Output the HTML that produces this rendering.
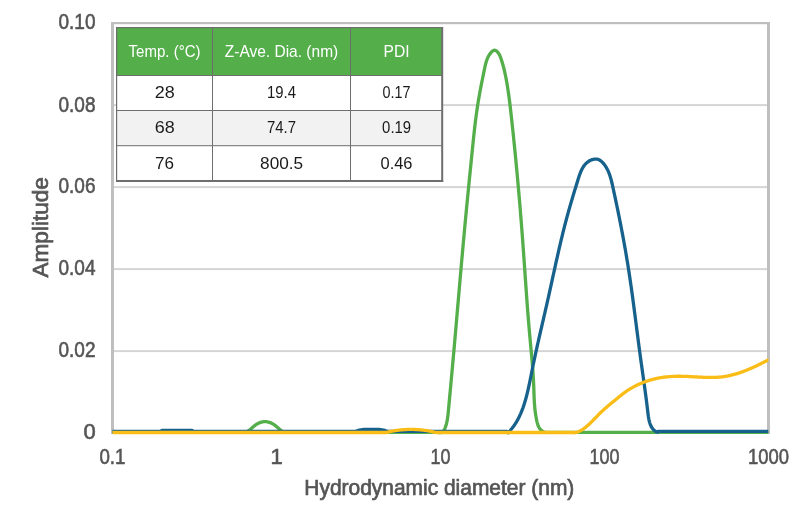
<!DOCTYPE html>
<html><head><meta charset="utf-8">
<style>
html,body{margin:0;padding:0;background:#fff;width:810px;height:525px;overflow:hidden}
svg{display:block;font-family:"Liberation Sans",sans-serif;will-change:transform}
</style></head><body>
<svg width="810" height="525" viewBox="0 0 810 525">
<rect width="810" height="525" fill="#fff"/>
<g fill="#d5d5d5">
<rect x="114" y="104.1" width="653" height="2"/>
<rect x="114" y="186.1" width="653" height="2"/>
<rect x="114" y="268.1" width="653" height="2"/>
<rect x="114" y="350.1" width="653" height="2"/>
</g>
<g fill="#bfbfbf">
<rect x="111" y="22" width="659" height="2.2"/>
<rect x="111" y="22" width="3" height="412"/>
<rect x="767" y="22" width="3" height="412"/>
</g>
<defs><clipPath id="pc"><rect x="111" y="0" width="657.5" height="525"/></clipPath></defs>
<g fill="none" stroke-width="3.3" stroke-linejoin="round" stroke-linecap="butt" clip-path="url(#pc)">
<path stroke="#54ae4a" d="M112.50,432.40 L243.00,432.40 L243.06,432.46 L244.08,432.39 L245.05,432.22 L245.97,431.95 L246.85,431.59 L247.70,431.16 L248.51,430.66 L249.30,430.11 L250.08,429.52 L250.83,428.89 L251.59,428.24 L252.34,427.58 L253.10,426.91 L253.87,426.26 L254.65,425.63 L255.46,425.02 L256.29,424.46 L257.15,423.93 L258.03,423.45 L258.92,423.02 L259.83,422.64 L260.75,422.31 L261.68,422.04 L262.62,421.84 L263.57,421.69 L264.52,421.62 L265.47,421.62 L266.42,421.69 L267.37,421.84 L268.31,422.04 L269.24,422.31 L270.17,422.64 L271.08,423.02 L271.98,423.45 L272.85,423.93 L273.71,424.45 L274.55,425.02 L275.36,425.62 L276.15,426.25 L276.92,426.90 L277.68,427.56 L278.43,428.23 L279.18,428.88 L279.93,429.52 L280.69,430.12 L281.47,430.68 L282.28,431.18 L283.12,431.62 L284.00,431.98 L284.92,432.24 L285.91,432.40 L286.95,432.45 L287.00,432.40 L438.00,432.40 L437.99,432.40 L439.35,432.62 L440.52,432.60 L441.52,432.36 L442.36,431.93 L443.08,431.35 L443.69,430.64 L444.20,429.83 L444.65,428.95 L445.04,428.04 L445.39,427.10 L445.72,426.16 L446.02,425.21 L446.30,424.26 L446.55,423.30 L446.78,422.33 L446.99,421.36 L447.18,420.39 L447.35,419.41 L447.51,418.42 L447.65,417.43 L447.79,416.44 L447.91,415.45 L448.02,414.46 L448.13,413.46 L448.23,412.46 L448.32,411.47 L448.42,410.47 L448.51,409.47 L448.60,408.47 L448.70,407.47 L448.79,406.47 L448.88,405.48 L448.97,404.48 L449.07,403.48 L449.16,402.48 L449.25,401.49 L449.35,400.49 L449.44,399.49 L449.53,398.50 L449.62,397.50 L449.72,396.51 L449.81,395.51 L449.90,394.51 L449.99,393.52 L450.09,392.52 L450.18,391.53 L450.27,390.53 L450.36,389.54 L450.46,388.54 L450.55,387.55 L450.64,386.55 L450.73,385.56 L450.82,384.56 L450.92,383.57 L451.01,382.58 L451.10,381.58 L451.19,380.59 L451.28,379.59 L451.37,378.60 L451.47,377.61 L451.56,376.61 L451.65,375.62 L451.74,374.62 L451.83,373.63 L451.92,372.64 L452.01,371.64 L452.10,370.65 L452.19,369.65 L452.28,368.66 L452.37,367.67 L452.46,366.67 L452.55,365.68 L452.64,364.68 L452.73,363.69 L452.82,362.70 L452.91,361.70 L453.00,360.71 L453.09,359.71 L453.18,358.72 L453.27,357.73 L453.36,356.73 L453.45,355.74 L453.53,354.74 L453.62,353.75 L453.71,352.75 L453.80,351.76 L453.89,350.77 L453.98,349.77 L454.06,348.78 L454.15,347.78 L454.24,346.79 L454.33,345.79 L454.41,344.80 L454.50,343.80 L454.59,342.81 L454.68,341.81 L454.76,340.82 L454.85,339.82 L454.94,338.83 L455.03,337.84 L455.11,336.84 L455.20,335.85 L455.29,334.85 L455.37,333.86 L455.46,332.86 L455.55,331.87 L455.63,330.87 L455.72,329.88 L455.81,328.88 L455.89,327.89 L455.98,326.89 L456.07,325.90 L456.15,324.90 L456.24,323.91 L456.32,322.91 L456.41,321.92 L456.50,320.92 L456.58,319.93 L456.67,318.93 L456.75,317.94 L456.84,316.94 L456.93,315.95 L457.01,314.95 L457.10,313.96 L457.18,312.96 L457.27,311.97 L457.36,310.97 L457.44,309.98 L457.53,308.98 L457.61,307.99 L457.70,306.99 L457.79,305.99 L457.87,305.00 L457.96,304.00 L458.04,303.01 L458.13,302.01 L458.21,301.02 L458.30,300.02 L458.39,299.03 L458.47,298.03 L458.56,297.04 L458.64,296.04 L458.73,295.05 L458.82,294.05 L458.90,293.06 L458.99,292.06 L459.07,291.07 L459.16,290.07 L459.25,289.08 L459.33,288.08 L459.42,287.09 L459.51,286.09 L459.59,285.09 L459.68,284.10 L459.76,283.10 L459.85,282.11 L459.94,281.11 L460.02,280.12 L460.11,279.12 L460.20,278.13 L460.28,277.13 L460.37,276.14 L460.46,275.14 L460.54,274.15 L460.63,273.15 L460.72,272.16 L460.81,271.16 L460.89,270.17 L460.98,269.17 L461.07,268.18 L461.15,267.18 L461.24,266.19 L461.33,265.19 L461.42,264.20 L461.51,263.20 L461.59,262.21 L461.68,261.21 L461.77,260.22 L461.86,259.22 L461.95,258.23 L462.03,257.23 L462.12,256.24 L462.21,255.24 L462.30,254.25 L462.39,253.25 L462.48,252.26 L462.57,251.26 L462.66,250.27 L462.75,249.27 L462.84,248.28 L462.93,247.28 L463.02,246.29 L463.11,245.29 L463.20,244.30 L463.29,243.30 L463.38,242.31 L463.47,241.31 L463.56,240.32 L463.65,239.32 L463.74,238.33 L463.83,237.33 L463.92,236.34 L464.01,235.34 L464.10,234.35 L464.19,233.36 L464.29,232.36 L464.38,231.37 L464.47,230.37 L464.56,229.38 L464.66,228.38 L464.75,227.39 L464.84,226.39 L464.93,225.40 L465.03,224.41 L465.12,223.41 L465.21,222.42 L465.31,221.42 L465.40,220.43 L465.50,219.43 L465.59,218.44 L465.68,217.45 L465.78,216.45 L465.87,215.46 L465.97,214.46 L466.06,213.47 L466.16,212.48 L466.25,211.48 L466.35,210.49 L466.44,209.49 L466.54,208.50 L466.63,207.51 L466.73,206.51 L466.83,205.52 L466.92,204.52 L467.02,203.53 L467.11,202.54 L467.21,201.54 L467.31,200.55 L467.40,199.55 L467.50,198.56 L467.60,197.57 L467.69,196.57 L467.79,195.58 L467.89,194.59 L467.99,193.59 L468.08,192.60 L468.18,191.60 L468.28,190.61 L468.38,189.62 L468.47,188.62 L468.57,187.63 L468.67,186.64 L468.77,185.64 L468.87,184.65 L468.96,183.65 L469.06,182.66 L469.16,181.67 L469.26,180.67 L469.36,179.68 L469.46,178.69 L469.55,177.69 L469.65,176.70 L469.75,175.70 L469.85,174.71 L469.95,173.72 L470.05,172.72 L470.15,171.73 L470.25,170.74 L470.35,169.74 L470.45,168.75 L470.55,167.75 L470.65,166.76 L470.74,165.77 L470.84,164.77 L470.94,163.78 L471.04,162.79 L471.14,161.79 L471.24,160.80 L471.34,159.80 L471.44,158.81 L471.54,157.82 L471.64,156.82 L471.74,155.83 L471.84,154.84 L471.94,153.84 L472.04,152.85 L472.14,151.85 L472.24,150.86 L472.34,149.87 L472.44,148.87 L472.54,147.88 L472.65,146.88 L472.75,145.89 L472.85,144.90 L472.95,143.90 L473.05,142.91 L473.15,141.91 L473.25,140.92 L473.36,139.93 L473.46,138.93 L473.56,137.94 L473.67,136.95 L473.77,135.95 L473.88,134.96 L473.99,133.97 L474.09,132.97 L474.20,131.98 L474.31,130.99 L474.42,130.00 L474.54,129.00 L474.65,128.01 L474.76,127.02 L474.88,126.03 L474.99,125.04 L475.11,124.05 L475.23,123.05 L475.35,122.06 L475.47,121.07 L475.60,120.08 L475.72,119.09 L475.85,118.10 L475.98,117.11 L476.11,116.12 L476.24,115.13 L476.37,114.15 L476.51,113.16 L476.64,112.17 L476.78,111.18 L476.92,110.19 L477.07,109.21 L477.21,108.22 L477.36,107.23 L477.51,106.25 L477.66,105.26 L477.82,104.28 L477.97,103.29 L478.13,102.31 L478.29,101.32 L478.46,100.34 L478.62,99.35 L478.79,98.37 L478.96,97.39 L479.13,96.41 L479.31,95.42 L479.48,94.44 L479.66,93.46 L479.84,92.48 L480.02,91.50 L480.20,90.51 L480.38,89.53 L480.57,88.55 L480.76,87.57 L480.94,86.59 L481.13,85.61 L481.32,84.63 L481.52,83.65 L481.71,82.67 L481.91,81.69 L482.10,80.70 L482.30,79.72 L482.50,78.74 L482.70,77.76 L482.90,76.78 L483.10,75.80 L483.30,74.82 L483.50,73.84 L483.70,72.86 L483.91,71.88 L484.11,70.89 L484.32,69.91 L484.52,68.93 L484.73,67.95 L484.94,66.97 L485.15,65.99 L485.38,65.01 L485.61,64.04 L485.86,63.07 L486.13,62.11 L486.43,61.15 L486.74,60.21 L487.09,59.27 L487.47,58.34 L487.88,57.43 L488.33,56.53 L488.82,55.64 L489.36,54.77 L489.95,53.91 L490.58,53.07 L491.27,52.26 L492.01,51.51 L492.78,50.89 L493.57,50.45 L494.39,50.25 L495.20,50.34 L496.01,50.69 L496.79,51.24 L497.52,51.95 L498.19,52.75 L498.78,53.61 L499.30,54.51 L499.77,55.43 L500.18,56.38 L500.55,57.34 L500.89,58.31 L501.22,59.28 L501.54,60.25 L501.85,61.22 L502.15,62.19 L502.44,63.16 L502.72,64.13 L502.99,65.10 L503.25,66.07 L503.51,67.04 L503.76,68.01 L504.00,68.98 L504.24,69.95 L504.46,70.91 L504.69,71.88 L504.90,72.85 L505.11,73.82 L505.32,74.79 L505.52,75.76 L505.72,76.74 L505.91,77.71 L506.10,78.68 L506.28,79.66 L506.46,80.64 L506.64,81.61 L506.81,82.59 L506.98,83.57 L507.15,84.55 L507.31,85.53 L507.47,86.51 L507.63,87.49 L507.78,88.48 L507.93,89.46 L508.08,90.45 L508.23,91.43 L508.37,92.42 L508.51,93.40 L508.65,94.39 L508.79,95.38 L508.92,96.37 L509.05,97.36 L509.18,98.35 L509.31,99.34 L509.44,100.33 L509.56,101.32 L509.69,102.31 L509.81,103.30 L509.93,104.29 L510.05,105.29 L510.16,106.28 L510.28,107.27 L510.40,108.26 L510.51,109.26 L510.62,110.25 L510.74,111.24 L510.85,112.24 L510.96,113.23 L511.07,114.23 L511.18,115.22 L511.29,116.21 L511.40,117.21 L511.51,118.20 L511.62,119.20 L511.73,120.19 L511.84,121.18 L511.94,122.18 L512.05,123.17 L512.16,124.17 L512.27,125.16 L512.37,126.15 L512.48,127.15 L512.59,128.14 L512.69,129.14 L512.80,130.13 L512.90,131.12 L513.01,132.12 L513.11,133.11 L513.22,134.11 L513.32,135.10 L513.42,136.09 L513.53,137.09 L513.63,138.08 L513.73,139.08 L513.84,140.07 L513.94,141.06 L514.04,142.06 L514.14,143.05 L514.24,144.05 L514.34,145.04 L514.44,146.04 L514.54,147.03 L514.64,148.02 L514.74,149.02 L514.84,150.01 L514.94,151.01 L515.04,152.00 L515.14,152.99 L515.24,153.99 L515.33,154.98 L515.43,155.98 L515.53,156.97 L515.62,157.97 L515.72,158.96 L515.82,159.96 L515.91,160.95 L516.01,161.94 L516.10,162.94 L516.20,163.93 L516.29,164.93 L516.39,165.92 L516.48,166.92 L516.58,167.91 L516.67,168.90 L516.76,169.90 L516.86,170.89 L516.95,171.89 L517.04,172.88 L517.13,173.88 L517.22,174.87 L517.32,175.87 L517.41,176.86 L517.50,177.86 L517.59,178.85 L517.68,179.84 L517.77,180.84 L517.86,181.83 L517.95,182.83 L518.04,183.82 L518.13,184.82 L518.21,185.81 L518.30,186.81 L518.39,187.80 L518.48,188.80 L518.57,189.79 L518.65,190.79 L518.74,191.78 L518.83,192.78 L518.91,193.77 L519.00,194.77 L519.08,195.76 L519.17,196.76 L519.26,197.75 L519.34,198.74 L519.43,199.74 L519.51,200.73 L519.59,201.73 L519.68,202.72 L519.76,203.72 L519.84,204.71 L519.93,205.71 L520.01,206.70 L520.09,207.70 L520.18,208.69 L520.26,209.69 L520.34,210.68 L520.42,211.68 L520.50,212.67 L520.58,213.67 L520.66,214.67 L520.74,215.66 L520.82,216.66 L520.90,217.65 L520.98,218.65 L521.06,219.64 L521.14,220.64 L521.22,221.63 L521.30,222.63 L521.38,223.62 L521.46,224.62 L521.53,225.61 L521.61,226.61 L521.69,227.60 L521.77,228.60 L521.84,229.59 L521.92,230.59 L522.00,231.58 L522.07,232.58 L522.15,233.58 L522.22,234.57 L522.30,235.57 L522.37,236.56 L522.45,237.56 L522.52,238.55 L522.60,239.55 L522.67,240.54 L522.74,241.54 L522.82,242.54 L522.89,243.53 L522.96,244.53 L523.04,245.52 L523.11,246.52 L523.18,247.51 L523.25,248.51 L523.33,249.51 L523.40,250.50 L523.47,251.50 L523.54,252.49 L523.61,253.49 L523.68,254.48 L523.75,255.48 L523.82,256.48 L523.89,257.47 L523.96,258.47 L524.03,259.46 L524.10,260.46 L524.17,261.46 L524.24,262.45 L524.31,263.45 L524.38,264.44 L524.45,265.44 L524.52,266.44 L524.59,267.43 L524.66,268.43 L524.73,269.42 L524.80,270.42 L524.87,271.42 L524.94,272.41 L525.00,273.41 L525.07,274.40 L525.14,275.40 L525.21,276.40 L525.28,277.39 L525.35,278.39 L525.42,279.38 L525.49,280.38 L525.56,281.38 L525.63,282.37 L525.70,283.37 L525.77,284.37 L525.84,285.36 L525.91,286.36 L525.98,287.35 L526.05,288.35 L526.12,289.35 L526.19,290.34 L526.26,291.34 L526.33,292.34 L526.40,293.33 L526.47,294.33 L526.55,295.32 L526.62,296.32 L526.69,297.32 L526.76,298.31 L526.83,299.31 L526.91,300.31 L526.98,301.30 L527.05,302.30 L527.13,303.29 L527.20,304.29 L527.28,305.29 L527.35,306.28 L527.43,307.28 L527.50,308.27 L527.58,309.27 L527.66,310.27 L527.73,311.26 L527.81,312.26 L527.89,313.26 L527.97,314.25 L528.04,315.25 L528.12,316.24 L528.20,317.24 L528.28,318.24 L528.36,319.23 L528.44,320.23 L528.53,321.23 L528.61,322.22 L528.69,323.22 L528.77,324.21 L528.86,325.21 L528.94,326.21 L529.03,327.20 L529.11,328.20 L529.20,329.19 L529.28,330.19 L529.37,331.19 L529.46,332.18 L529.55,333.18 L529.64,334.17 L529.72,335.17 L529.82,336.17 L529.91,337.16 L530.00,338.16 L530.09,339.15 L530.18,340.15 L530.27,341.15 L530.37,342.14 L530.46,343.14 L530.55,344.13 L530.65,345.13 L530.74,346.13 L530.83,347.12 L530.93,348.12 L531.02,349.11 L531.11,350.11 L531.20,351.10 L531.29,352.10 L531.39,353.09 L531.48,354.09 L531.57,355.09 L531.66,356.08 L531.75,357.08 L531.83,358.07 L531.92,359.07 L532.01,360.06 L532.09,361.06 L532.18,362.05 L532.26,363.05 L532.34,364.04 L532.42,365.04 L532.50,366.03 L532.58,367.03 L532.66,368.02 L532.73,369.01 L532.81,370.01 L532.88,371.00 L532.95,372.00 L533.02,372.99 L533.08,373.99 L533.15,374.98 L533.21,375.97 L533.27,376.97 L533.33,377.96 L533.39,378.96 L533.44,379.95 L533.50,380.94 L533.55,381.94 L533.59,382.93 L533.64,383.92 L533.68,384.92 L533.72,385.91 L533.76,386.90 L533.79,387.90 L533.83,388.89 L533.86,389.88 L533.89,390.87 L533.93,391.87 L533.96,392.86 L534.00,393.85 L534.03,394.85 L534.07,395.84 L534.11,396.84 L534.15,397.83 L534.19,398.83 L534.24,399.82 L534.29,400.82 L534.35,401.81 L534.41,402.81 L534.48,403.80 L534.55,404.80 L534.62,405.80 L534.71,406.80 L534.80,407.80 L534.90,408.80 L535.00,409.80 L535.12,410.80 L535.24,411.80 L535.37,412.80 L535.51,413.81 L535.66,414.81 L535.82,415.81 L535.99,416.82 L536.17,417.83 L536.37,418.84 L536.57,419.84 L536.79,420.85 L537.02,421.86 L537.28,422.86 L537.56,423.84 L537.87,424.80 L538.22,425.73 L538.61,426.62 L539.04,427.48 L539.53,428.29 L540.07,429.05 L540.68,429.75 L541.34,430.38 L542.08,430.94 L542.90,431.43 L543.80,431.83 L544.78,432.15 L545.85,432.36 L547.02,432.48 L547.00,432.40 L768.50,432.40 "/>
<path stroke="#16628c" d="M112.50,431.45 L160.00,431.45 L162.00,430.45 L192.00,430.45 L194.00,431.45 L355.00,431.45 L358.00,430.45 L364.00,429.45 L379.00,429.45 L385.00,430.45 L388.00,431.45 L507.00,431.45 L508.10,432.85 L508.77,432.15 L509.42,431.45 L510.06,430.74 L510.68,430.02 L511.29,429.29 L511.89,428.55 L512.47,427.80 L513.04,427.04 L513.60,426.28 L514.14,425.50 L514.68,424.72 L515.20,423.92 L515.70,423.12 L516.20,422.31 L516.69,421.49 L517.16,420.67 L517.62,419.84 L518.08,419.00 L518.52,418.15 L518.95,417.30 L519.37,416.43 L519.78,415.57 L520.18,414.69 L520.58,413.81 L520.96,412.92 L521.33,412.03 L521.70,411.13 L522.06,410.22 L522.40,409.31 L522.74,408.40 L523.08,407.48 L523.40,406.55 L523.72,405.62 L524.03,404.68 L524.33,403.74 L524.63,402.80 L524.92,401.85 L525.20,400.89 L525.48,399.94 L525.75,398.97 L526.02,398.01 L526.28,397.04 L526.53,396.07 L526.79,395.10 L527.03,394.12 L527.27,393.14 L527.51,392.16 L527.74,391.17 L527.97,390.18 L528.20,389.19 L528.42,388.20 L528.64,387.21 L528.85,386.21 L529.07,385.22 L529.28,384.22 L529.49,383.22 L529.69,382.22 L529.90,381.22 L530.10,380.22 L530.30,379.22 L530.50,378.22 L530.70,377.22 L530.90,376.22 L531.10,375.22 L531.30,374.22 L531.50,373.22 L531.69,372.22 L531.89,371.22 L532.09,370.23 L532.29,369.23 L532.49,368.24 L532.69,367.24 L532.90,366.25 L533.10,365.26 L533.31,364.27 L533.51,363.28 L533.72,362.30 L533.92,361.31 L534.13,360.33 L534.34,359.34 L534.55,358.36 L534.76,357.38 L534.97,356.40 L535.18,355.42 L535.39,354.44 L535.60,353.46 L535.82,352.49 L536.03,351.51 L536.24,350.53 L536.46,349.56 L536.67,348.59 L536.89,347.61 L537.11,346.64 L537.32,345.67 L537.54,344.70 L537.76,343.73 L537.98,342.76 L538.20,341.79 L538.41,340.82 L538.63,339.85 L538.85,338.88 L539.07,337.92 L539.29,336.95 L539.52,335.98 L539.74,335.02 L539.96,334.05 L540.18,333.08 L540.40,332.12 L540.62,331.15 L540.84,330.19 L541.07,329.22 L541.29,328.26 L541.51,327.29 L541.73,326.33 L541.96,325.37 L542.18,324.40 L542.40,323.44 L542.63,322.47 L542.85,321.51 L543.07,320.54 L543.30,319.58 L543.52,318.61 L543.74,317.65 L543.96,316.68 L544.19,315.72 L544.41,314.75 L544.63,313.79 L544.86,312.82 L545.08,311.85 L545.30,310.89 L545.52,309.92 L545.74,308.95 L545.97,307.98 L546.19,307.01 L546.41,306.04 L546.63,305.07 L546.85,304.10 L547.07,303.13 L547.29,302.16 L547.51,301.19 L547.73,300.22 L547.95,299.24 L548.16,298.27 L548.38,297.29 L548.60,296.32 L548.82,295.34 L549.03,294.36 L549.25,293.39 L549.47,292.41 L549.68,291.43 L549.90,290.45 L550.11,289.47 L550.33,288.49 L550.54,287.51 L550.76,286.53 L550.98,285.55 L551.19,284.57 L551.40,283.59 L551.62,282.60 L551.83,281.62 L552.05,280.64 L552.26,279.66 L552.48,278.67 L552.69,277.69 L552.91,276.70 L553.12,275.72 L553.34,274.74 L553.55,273.75 L553.77,272.77 L553.98,271.79 L554.20,270.80 L554.42,269.82 L554.63,268.83 L554.85,267.85 L555.06,266.87 L555.28,265.88 L555.50,264.90 L555.72,263.91 L555.93,262.93 L556.15,261.95 L556.37,260.97 L556.59,259.98 L556.81,259.00 L557.03,258.02 L557.25,257.04 L557.47,256.06 L557.69,255.07 L557.91,254.09 L558.13,253.11 L558.36,252.13 L558.58,251.15 L558.80,250.18 L559.03,249.20 L559.25,248.22 L559.48,247.24 L559.70,246.27 L559.93,245.29 L560.16,244.31 L560.39,243.34 L560.62,242.37 L560.85,241.39 L561.08,240.42 L561.31,239.45 L561.54,238.48 L561.77,237.51 L562.01,236.54 L562.24,235.57 L562.48,234.60 L562.72,233.64 L562.95,232.67 L563.19,231.70 L563.43,230.74 L563.67,229.78 L563.91,228.82 L564.16,227.86 L564.40,226.90 L564.65,225.94 L564.89,224.98 L565.14,224.02 L565.39,223.07 L565.64,222.12 L565.89,221.16 L566.14,220.21 L566.39,219.26 L566.65,218.31 L566.90,217.36 L567.16,216.42 L567.42,215.47 L567.68,214.53 L567.94,213.58 L568.20,212.64 L568.46,211.69 L568.72,210.75 L568.99,209.81 L569.26,208.86 L569.53,207.92 L569.80,206.98 L570.07,206.03 L570.34,205.09 L570.61,204.15 L570.89,203.20 L571.16,202.26 L571.44,201.31 L571.72,200.36 L572.00,199.41 L572.28,198.46 L572.57,197.51 L572.85,196.56 L573.14,195.60 L573.42,194.65 L573.71,193.69 L574.00,192.73 L574.29,191.77 L574.59,190.81 L574.88,189.84 L575.18,188.87 L575.48,187.90 L575.77,186.93 L576.08,185.95 L576.38,184.98 L576.68,184.00 L576.99,183.01 L577.29,182.02 L577.60,181.03 L577.91,180.04 L578.22,179.04 L578.54,178.04 L578.86,177.05 L579.19,176.05 L579.53,175.07 L579.88,174.09 L580.24,173.12 L580.62,172.16 L581.02,171.21 L581.44,170.29 L581.88,169.38 L582.34,168.49 L582.83,167.63 L583.35,166.79 L583.89,165.98 L584.47,165.20 L585.09,164.46 L585.74,163.74 L586.42,163.07 L587.15,162.43 L587.92,161.83 L588.73,161.28 L589.59,160.77 L590.49,160.31 L591.42,159.92 L592.38,159.59 L593.35,159.33 L594.33,159.16 L595.31,159.07 L596.27,159.09 L597.22,159.21 L598.14,159.44 L599.03,159.79 L599.88,160.25 L600.70,160.79 L601.48,161.42 L602.23,162.12 L602.94,162.87 L603.62,163.66 L604.27,164.49 L604.89,165.34 L605.47,166.19 L606.02,167.06 L606.54,167.94 L607.03,168.83 L607.50,169.73 L607.94,170.64 L608.35,171.55 L608.74,172.47 L609.12,173.40 L609.47,174.34 L609.80,175.29 L610.11,176.23 L610.41,177.19 L610.69,178.15 L610.97,179.11 L611.22,180.08 L611.47,181.05 L611.71,182.02 L611.94,183.00 L612.17,183.98 L612.39,184.96 L612.61,185.94 L612.82,186.92 L613.04,187.90 L613.25,188.88 L613.47,189.86 L613.68,190.84 L613.89,191.82 L614.10,192.80 L614.31,193.77 L614.53,194.75 L614.74,195.73 L614.95,196.71 L615.15,197.69 L615.36,198.67 L615.57,199.65 L615.78,200.63 L615.98,201.60 L616.19,202.58 L616.40,203.56 L616.60,204.54 L616.80,205.52 L617.01,206.50 L617.21,207.47 L617.41,208.45 L617.62,209.43 L617.82,210.41 L618.02,211.38 L618.22,212.36 L618.42,213.34 L618.61,214.32 L618.81,215.30 L619.01,216.27 L619.21,217.25 L619.40,218.23 L619.60,219.21 L619.79,220.19 L619.99,221.16 L620.18,222.14 L620.37,223.12 L620.56,224.10 L620.75,225.08 L620.94,226.05 L621.13,227.03 L621.32,228.01 L621.51,228.99 L621.70,229.97 L621.88,230.95 L622.07,231.92 L622.26,232.90 L622.44,233.88 L622.62,234.86 L622.81,235.84 L622.99,236.82 L623.17,237.80 L623.35,238.78 L623.53,239.76 L623.71,240.74 L623.89,241.72 L624.07,242.70 L624.24,243.68 L624.42,244.66 L624.59,245.64 L624.77,246.62 L624.94,247.61 L625.11,248.59 L625.29,249.57 L625.46,250.55 L625.63,251.53 L625.80,252.52 L625.97,253.50 L626.13,254.48 L626.30,255.47 L626.47,256.45 L626.63,257.43 L626.80,258.42 L626.96,259.40 L627.12,260.39 L627.29,261.37 L627.45,262.36 L627.61,263.34 L627.77,264.33 L627.92,265.32 L628.08,266.30 L628.24,267.29 L628.39,268.28 L628.55,269.27 L628.70,270.25 L628.86,271.24 L629.01,272.23 L629.16,273.22 L629.31,274.21 L629.46,275.20 L629.61,276.19 L629.76,277.18 L629.90,278.17 L630.05,279.16 L630.20,280.15 L630.34,281.14 L630.48,282.14 L630.63,283.13 L630.77,284.12 L630.91,285.11 L631.05,286.11 L631.20,287.10 L631.34,288.09 L631.48,289.08 L631.61,290.08 L631.75,291.07 L631.89,292.06 L632.03,293.06 L632.17,294.05 L632.30,295.05 L632.44,296.04 L632.57,297.04 L632.71,298.03 L632.84,299.02 L632.98,300.02 L633.11,301.01 L633.24,302.01 L633.38,303.00 L633.51,304.00 L633.64,304.99 L633.77,305.99 L633.90,306.98 L634.03,307.98 L634.16,308.97 L634.29,309.97 L634.42,310.96 L634.55,311.95 L634.68,312.95 L634.81,313.94 L634.94,314.94 L635.07,315.93 L635.20,316.93 L635.33,317.92 L635.45,318.92 L635.58,319.91 L635.71,320.90 L635.84,321.90 L635.97,322.89 L636.09,323.88 L636.22,324.88 L636.35,325.87 L636.48,326.86 L636.60,327.86 L636.73,328.85 L636.86,329.84 L636.99,330.83 L637.11,331.83 L637.24,332.82 L637.37,333.81 L637.50,334.80 L637.62,335.79 L637.75,336.78 L637.88,337.77 L638.01,338.76 L638.14,339.75 L638.26,340.74 L638.39,341.73 L638.52,342.72 L638.65,343.71 L638.78,344.70 L638.91,345.68 L639.04,346.67 L639.17,347.66 L639.30,348.65 L639.43,349.63 L639.56,350.62 L639.69,351.60 L639.82,352.59 L639.95,353.57 L640.09,354.56 L640.22,355.54 L640.35,356.52 L640.49,357.51 L640.62,358.49 L640.75,359.47 L640.89,360.45 L641.02,361.43 L641.16,362.41 L641.30,363.39 L641.43,364.37 L641.57,365.35 L641.71,366.33 L641.84,367.31 L641.98,368.29 L642.12,369.27 L642.26,370.25 L642.40,371.23 L642.53,372.21 L642.67,373.19 L642.81,374.17 L642.95,375.15 L643.09,376.13 L643.23,377.12 L643.37,378.10 L643.50,379.08 L643.64,380.07 L643.78,381.05 L643.92,382.04 L644.06,383.03 L644.20,384.01 L644.33,385.00 L644.47,385.99 L644.61,386.99 L644.74,387.98 L644.88,388.97 L645.02,389.97 L645.15,390.97 L645.29,391.97 L645.42,392.97 L645.56,393.97 L645.69,394.98 L645.82,395.98 L645.95,396.99 L646.09,398.00 L646.22,399.01 L646.35,400.03 L646.48,401.05 L646.61,402.06 L646.73,403.09 L646.86,404.11 L646.99,405.14 L647.11,406.16 L647.24,407.20 L647.36,408.23 L647.49,409.27 L647.61,410.31 L647.73,411.35 L647.85,412.39 L647.98,413.43 L648.11,414.47 L648.25,415.50 L648.39,416.53 L648.56,417.54 L648.73,418.54 L648.92,419.53 L649.13,420.50 L649.36,421.45 L649.61,422.38 L649.89,423.29 L650.20,424.17 L650.53,425.02 L650.90,425.84 L651.30,426.64 L651.73,427.39 L652.21,428.11 L652.72,428.79 L653.28,429.43 L653.88,430.03 L654.53,430.58 L655.22,431.09 L655.97,431.54 L656.77,431.95 L657.63,432.29 L658.00,431.45 L768.50,431.45 "/>
<path stroke="#fabc16" d="M112.50,432.50 L386.00,432.50 L386.01,432.55 L386.97,432.30 L387.93,432.07 L388.90,431.85 L389.87,431.63 L390.84,431.43 L391.81,431.23 L392.78,431.05 L393.76,430.88 L394.74,430.71 L395.71,430.55 L396.69,430.41 L397.68,430.27 L398.66,430.15 L399.64,430.03 L400.63,429.92 L401.61,429.83 L402.60,429.74 L403.58,429.66 L404.57,429.59 L405.56,429.53 L406.55,429.49 L407.54,429.45 L408.53,429.42 L409.52,429.40 L410.51,429.39 L411.49,429.39 L412.48,429.40 L413.47,429.42 L414.46,429.45 L415.45,429.49 L416.44,429.53 L417.43,429.59 L418.42,429.66 L419.40,429.74 L420.39,429.83 L421.37,429.92 L422.36,430.03 L423.34,430.15 L424.32,430.27 L425.31,430.41 L426.29,430.55 L427.26,430.71 L428.24,430.88 L429.22,431.05 L430.19,431.23 L431.16,431.43 L432.13,431.63 L433.10,431.85 L434.07,432.07 L435.03,432.30 L435.99,432.55 L436.00,432.50 L574.00,432.50 L574.11,432.94 L575.10,432.72 L576.07,432.45 L577.01,432.14 L577.93,431.80 L578.83,431.42 L579.72,431.00 L580.58,430.56 L581.43,430.09 L582.26,429.59 L583.08,429.07 L583.88,428.52 L584.67,427.95 L585.45,427.36 L586.22,426.75 L586.97,426.13 L587.72,425.49 L588.46,424.84 L589.19,424.17 L589.91,423.49 L590.63,422.80 L591.34,422.10 L592.04,421.39 L592.75,420.68 L593.45,419.96 L594.14,419.24 L594.84,418.51 L595.53,417.78 L596.23,417.06 L596.93,416.33 L597.62,415.60 L598.33,414.88 L599.03,414.17 L599.74,413.46 L600.45,412.75 L601.17,412.06 L601.90,411.37 L602.63,410.69 L603.37,410.02 L604.11,409.35 L604.85,408.69 L605.60,408.03 L606.35,407.38 L607.11,406.73 L607.87,406.09 L608.63,405.45 L609.40,404.81 L610.17,404.17 L610.94,403.53 L611.72,402.90 L612.49,402.27 L613.27,401.63 L614.05,400.99 L614.83,400.36 L615.61,399.72 L616.39,399.08 L617.17,398.44 L617.96,397.79 L618.74,397.15 L619.53,396.51 L620.32,395.87 L621.11,395.24 L621.91,394.61 L622.71,393.99 L623.51,393.37 L624.32,392.76 L625.14,392.17 L625.96,391.58 L626.78,391.01 L627.62,390.45 L628.45,389.90 L629.30,389.36 L630.15,388.83 L631.00,388.32 L631.86,387.82 L632.73,387.33 L633.60,386.85 L634.48,386.38 L635.36,385.92 L636.25,385.48 L637.14,385.04 L638.03,384.62 L638.93,384.21 L639.84,383.81 L640.75,383.42 L641.66,383.04 L642.58,382.67 L643.50,382.32 L644.43,381.97 L645.36,381.64 L646.30,381.32 L647.23,381.00 L648.17,380.70 L649.12,380.41 L650.07,380.13 L651.02,379.85 L651.97,379.59 L652.93,379.34 L653.89,379.10 L654.86,378.87 L655.82,378.65 L656.79,378.44 L657.76,378.24 L658.74,378.05 L659.71,377.87 L660.69,377.70 L661.67,377.54 L662.65,377.39 L663.64,377.25 L664.62,377.12 L665.61,377.00 L666.60,376.89 L667.59,376.78 L668.58,376.69 L669.58,376.60 L670.57,376.53 L671.57,376.46 L672.56,376.41 L673.56,376.36 L674.56,376.32 L675.56,376.29 L676.56,376.27 L677.56,376.26 L678.56,376.25 L679.56,376.25 L680.56,376.26 L681.56,376.28 L682.56,376.30 L683.56,376.32 L684.57,376.35 L685.57,376.39 L686.57,376.43 L687.58,376.47 L688.58,376.52 L689.58,376.57 L690.59,376.62 L691.59,376.68 L692.59,376.73 L693.60,376.79 L694.60,376.84 L695.60,376.90 L696.60,376.96 L697.61,377.01 L698.61,377.07 L699.61,377.12 L700.61,377.17 L701.61,377.22 L702.62,377.26 L703.62,377.30 L704.62,377.34 L705.62,377.37 L706.61,377.40 L707.61,377.42 L708.61,377.44 L709.61,377.45 L710.60,377.45 L711.60,377.45 L712.59,377.44 L713.59,377.42 L714.58,377.39 L715.57,377.35 L716.56,377.31 L717.56,377.25 L718.54,377.18 L719.53,377.11 L720.52,377.02 L721.51,376.92 L722.49,376.80 L723.48,376.68 L724.46,376.54 L725.44,376.39 L726.42,376.23 L727.40,376.05 L728.37,375.86 L729.35,375.65 L730.32,375.44 L731.30,375.21 L732.27,374.97 L733.24,374.72 L734.20,374.46 L735.17,374.18 L736.13,373.90 L737.09,373.61 L738.05,373.31 L739.01,372.99 L739.97,372.67 L740.92,372.34 L741.87,372.00 L742.82,371.66 L743.76,371.30 L744.71,370.94 L745.65,370.57 L746.58,370.20 L747.52,369.82 L748.45,369.43 L749.38,369.03 L750.31,368.63 L751.23,368.23 L752.15,367.82 L753.07,367.41 L753.99,366.99 L754.90,366.57 L755.80,366.14 L756.71,365.71 L757.61,365.28 L758.51,364.84 L759.40,364.41 L760.30,363.97 L761.18,363.53 L762.07,363.08 L762.95,362.64 L763.82,362.20 L764.69,361.75 L765.56,361.31 L766.43,360.86 L767.29,360.42 L768.14,359.98 L769.00,359.54 "/>
</g>
<!-- table -->
<g>
<rect x="116.5" y="27.5" width="326" height="154" fill="#fff"/>
<rect x="116.5" y="27.5" width="326" height="48" fill="#54ae4a"/>
<rect x="116.5" y="110.8" width="326" height="35" fill="#f2f2f2"/>
<g fill="#6e6e6e">
<rect x="116" y="27" width="1.2" height="155"/>
<rect x="116" y="27" width="327" height="1.2"/>
<rect x="441.2" y="27" width="2" height="155"/>
<rect x="116" y="180" width="327.2" height="2"/>
<rect x="212" y="27" width="1" height="154"/>
<rect x="350" y="27" width="1" height="154"/>
<rect x="116" y="75" width="326" height="1"/>
<rect x="116" y="110" width="326" height="1"/>
<rect x="116" y="145.2" width="326" height="1"/>
</g>
</g>
<g fill="#ffffff" font-size="15.7" text-anchor="middle">
<text x="164.6" y="57" textLength="72" lengthAdjust="spacingAndGlyphs">Temp. (°C)</text>
<text x="281.5" y="57" textLength="113.5" lengthAdjust="spacingAndGlyphs">Z-Ave. Dia. (nm)</text>
<text x="396.5" y="57" textLength="26" lengthAdjust="spacingAndGlyphs">PDI</text>
</g>
<g fill="#1a1a1a" font-size="15.9" text-anchor="middle">
<text x="164.8" y="98" textLength="20" lengthAdjust="spacingAndGlyphs">28</text>
<text x="281.5" y="98" textLength="29" lengthAdjust="spacingAndGlyphs">19.4</text>
<text x="396.5" y="98" textLength="28" lengthAdjust="spacingAndGlyphs">0.17</text>
<text x="164.7" y="133" textLength="20" lengthAdjust="spacingAndGlyphs">68</text>
<text x="281.5" y="133" textLength="29" lengthAdjust="spacingAndGlyphs">74.7</text>
<text x="396.6" y="133" textLength="29" lengthAdjust="spacingAndGlyphs">0.19</text>
<text x="164.6" y="169" textLength="19" lengthAdjust="spacingAndGlyphs">76</text>
<text x="281.6" y="169" textLength="43" lengthAdjust="spacingAndGlyphs">800.5</text>
<text x="396.5" y="169" textLength="32" lengthAdjust="spacingAndGlyphs">0.46</text>
</g>
<g fill="#555555" stroke="#555555" stroke-width="0.6" font-size="22" text-anchor="end">
<text x="95.5" y="29.3" textLength="37" lengthAdjust="spacingAndGlyphs">0.10</text>
<text x="95.5" y="111.6" textLength="37" lengthAdjust="spacingAndGlyphs">0.08</text>
<text x="95.5" y="193.2" textLength="37" lengthAdjust="spacingAndGlyphs">0.06</text>
<text x="95.5" y="275.2" textLength="37" lengthAdjust="spacingAndGlyphs">0.04</text>
<text x="95.5" y="357.2" textLength="37" lengthAdjust="spacingAndGlyphs">0.02</text>
<text x="95.8" y="439.3">0</text>
</g>
<g fill="#555555" stroke="#555555" stroke-width="0.6" font-size="22" text-anchor="middle">
<text x="112.4" y="464.4" textLength="26" lengthAdjust="spacingAndGlyphs">0.1</text>
<text x="276.5" y="464.4">1</text>
<text x="440.4" y="464.4" textLength="20" lengthAdjust="spacingAndGlyphs">10</text>
<text x="604.4" y="464.4" textLength="30" lengthAdjust="spacingAndGlyphs">100</text>
<text x="768.6" y="464.4" textLength="41" lengthAdjust="spacingAndGlyphs">1000</text>
</g>
<text x="439.3" y="494.7" fill="#555555" stroke="#555555" stroke-width="0.7" font-size="21.4" text-anchor="middle" textLength="270" lengthAdjust="spacingAndGlyphs">Hydrodynamic diameter (nm)</text>
<text transform="translate(48.4,227.3) rotate(-90)" x="0" y="0" fill="#555555" stroke="#555555" stroke-width="0.7" font-size="22.3" text-anchor="middle" textLength="100.5" lengthAdjust="spacingAndGlyphs">Amplitude</text>
</svg>
</body></html>
